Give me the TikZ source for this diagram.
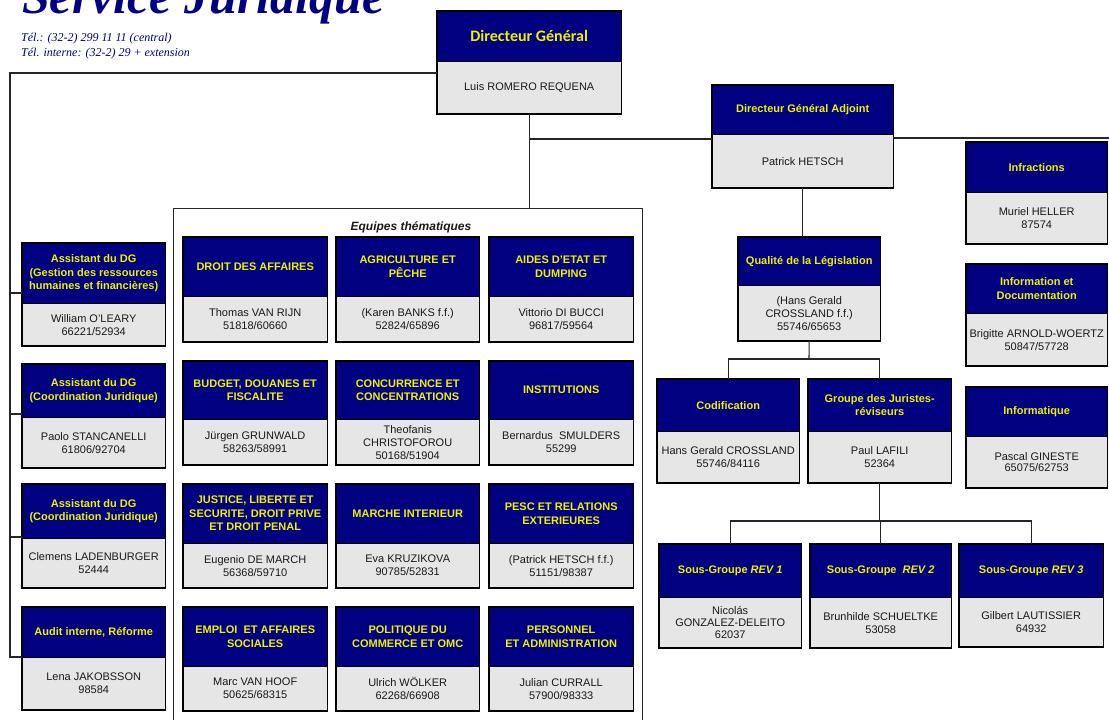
\documentclass[tikz,border=0pt]{standalone}
\usepackage{fontspec}
\setmainfont{Liberation Sans}
\newfontfamily\titleserif{Liberation Serif}
\newfontfamily\carl{Carlito}
\usetikzlibrary{calc}
\definecolor{navy}{RGB}{0,0,128}
\definecolor{hy}{RGB}{240,240,0}
\definecolor{lgrey}{RGB}{230,230,230}
\definecolor{ink}{RGB}{25,25,25}
\newcommand\hdrfont{\fontsize{11}{13.5}\selectfont\bfseries}
\newcommand\bdyfont{\fontsize{11}{13}\selectfont}
% #1 name, #2 x, #3 y top, #4 width, #5 header height, #6 body height, #7 header, #8 body
\newcommand\orgbox[8]{%
  \node[hdr, minimum width=#4pt, minimum height=#5pt] (#1h) at (#2,#3) {#7};
  \node[bdy, minimum width=#4pt, minimum height=#6pt] (#1) at (#1h.south) {#8};
  \draw[sepline] (#1h.south west) -- (#1h.south east);
  \draw[frame] (#1h.north west) rectangle (#1.south east);
}
\begin{document}
\begin{tikzpicture}[x=1pt,y=-1pt,
  hdr/.style={fill=navy, text=hy, font=\hdrfont, align=center, inner sep=1pt, anchor=north west},
  bdy/.style={fill=lgrey, text=ink, font=\bdyfont, align=center, inner sep=1pt, anchor=north},
  frame/.style={draw=black, line width=1.7pt},
  sepline/.style={draw=black, line width=1.5pt},
  conn/.style={draw=black!85, line width=1.1pt},
  lbl/.style={inner sep=0pt}]
\path[use as bounding box] (0,0) rectangle (1109,720);
\clip (0,0) rectangle (1109,720);
\fill[white] (0,0) rectangle (1109,720);

% title
\node[lbl, anchor=base west, font=\titleserif\fontsize{50}{50}\selectfont\bfseries\itshape, text=navy] (title) at (22,13) {Service Juridique};
\node[lbl, anchor=base west, font=\titleserif\fontsize{12}{15}\selectfont\itshape, text=navy] (tel1) at (21,41) {Tél.: (32-2) 299 11 11 (central)};
\node[lbl, anchor=base west, font=\titleserif\fontsize{12}{15}\selectfont\itshape, text=navy] (tel2) at (21,56) {Tél. interne: (32-2) 29 + extension};

% thematic teams frame
\node[draw=black!85, line width=1.1pt, minimum width=469pt, minimum height=560pt, anchor=north west, inner sep=0pt] (eq) at (173,208) {};
\node[lbl, font=\fontsize{12}{14}\selectfont\bfseries\itshape, text=ink] (eqlab) at (411,227) {Equipes thématiques};

% connector coordinates
\coordinate (tt) at (10,73);
\coordinate (tb) at (10,657);
\coordinate (b1) at (10,293);
\coordinate (b2) at (10,414);
\coordinate (b3) at (10,537);
\coordinate (j1) at (529,139);
\coordinate (rE) at (1115,138);
\coordinate (q1) at (809,359);
\coordinate (g1) at (876,521);

% boxes
\orgbox{dg}{437}{11}{184}{50}{52}{{\carl\fontsize{16}{18}\selectfont Directeur Général}}{Luis ROMERO REQUENA}
\orgbox{dga}{712}{85}{181}{49}{53}{Directeur Général Adjoint}{Patrick HETSCH}
\orgbox{inf}{966}{142}{141}{50}{51}{Infractions}{Muriel HELLER\\87574}
\orgbox{doc}{966}{264}{141}{49}{52}{Information et\\Documentation}{Brigitte ARNOLD-WOERTZ\\50847/57728}
\orgbox{it}{966}{387}{141}{49}{51}{Informatique}{Pascal GINESTE\\[-2pt]65075/62753}
\orgbox{qual}{738}{237}{142}{48}{55}{Qualité de la Législation}{(Hans Gerald\\CROSSLAND f.f.)\\55746/65653}
\orgbox{cod}{657}{379}{142}{52}{51}{Codification}{Hans Gerald CROSSLAND\\55746/84116}
\orgbox{grp}{808}{379}{143}{52}{51}{Groupe des Juristes-\\réviseurs}{Paul LAFILI\\52364}
\orgbox{revA}{659}{544}{142}{53}{50}{Sous-Groupe \textit{REV 1}}{Nicolás\\[-1pt]GONZALEZ-DELEITO\\[-1pt]62037}
\orgbox{revB}{810}{544}{141}{53}{50}{Sous-Groupe \ \textit{REV 2}}{Brunhilde SCHUELTKE\\53058}
\orgbox{revC}{959}{544}{144}{53}{49}{Sous-Groupe \textit{REV 3}}{Gilbert LAUTISSIER\\64932}

% assistants
\orgbox{asA}{22}{243}{143}{60}{42}{Assistant du DG\\(Gestion des ressources\\humaines et financières)}{William O'LEARY\\66221/52934}
\orgbox{asB}{22}{364}{143}{53}{50}{Assistant du DG\\(Coordination Juridique)}{Paolo STANCANELLI\\61806/92704}
\orgbox{asC}{22}{484}{143}{54}{49}{Assistant du DG\\(Coordination Juridique)}{Clemens LADENBURGER\\52444}
\orgbox{aud}{22}{607}{143}{50}{52}{Audit interne, Réforme}{Lena JAKOBSSON\\98584}

% thematic teams
\orgbox{t11}{183}{237}{144}{59}{45}{DROIT DES AFFAIRES}{Thomas VAN RIJN\\51818/60660}
\orgbox{t12}{336}{237}{143}{59}{45}{AGRICULTURE ET\\PÊCHE}{(Karen BANKS f.f.)\\52824/65896}
\orgbox{t13}{489}{237}{144}{59}{45}{AIDES D'ETAT ET\\DUMPING}{Vittorio DI BUCCI\\96817/59564}
\orgbox{t21}{183}{361}{144}{58}{45}{BUDGET, DOUANES ET\\FISCALITE}{Jürgen GRUNWALD\\58263/58991}
\orgbox{t22}{336}{361}{143}{58}{45}{CONCURRENCE ET\\CONCENTRATIONS}{Theofanis\\CHRISTOFOROU\\50168/51904}
\orgbox{t23}{489}{361}{144}{58}{45}{INSTITUTIONS}{Bernardus \ SMULDERS\\55299}
\orgbox{t31}{183}{484}{144}{59}{44}{JUSTICE, LIBERTE ET\\SECURITE, DROIT PRIVE\\ET DROIT PENAL}{Eugenio DE MARCH\\56368/59710}
\orgbox{t32}{336}{484}{143}{59}{44}{MARCHE INTERIEUR}{Eva KRUZIKOVA\\90785/52831}
\orgbox{t33}{489}{484}{144}{59}{44}{PESC ET RELATIONS\\EXTERIEURES}{(Patrick HETSCH f.f.)\\51151/98387}
\orgbox{t41}{183}{607}{144}{59}{44}{EMPLOI \ ET AFFAIRES\\SOCIALES}{Marc VAN HOOF\\50625/68315}
\orgbox{t42}{336}{607}{143}{59}{44}{POLITIQUE DU\\COMMERCE ET OMC}{Ulrich WÖLKER\\62268/66908}
\orgbox{t43}{489}{607}{144}{59}{44}{PERSONNEL\\ET ADMINISTRATION}{Julian CURRALL\\57900/98333}

% connectors
\begin{scope}[on background layer/.style={}]
\draw[conn] (tt -| dg.west) -- (tt) -- (tb) -- (tb -| audh.west);
\draw[conn] (b1) -- (b1 -| asAh.west);
\draw[conn] (b2) -- (b2 -| asBh.west);
\draw[conn] (b3) -- (b3 -| asCh.west);
\draw[conn] (dg.south) -- (dg.south |- eq.north);
\draw[conn] (j1) -- (j1 -| dgah.west);
\draw[conn] (rE -| dga.east) -- (rE);
\draw[conn] (dga.south) -- (dga.south |- qualh.north);
\draw[conn] (qual.south) -- (q1);
\draw[conn] (codh.north) |- (q1) -| (grph.north);
\draw[conn] (grp.south) -- (grp.south |- g1);
\draw[conn] (revAh.north) |- (g1) -| (revCh.north);
\draw[conn] (revBh.north) -- (revBh.north |- g1);
\end{scope}
\end{tikzpicture}
\end{document}
